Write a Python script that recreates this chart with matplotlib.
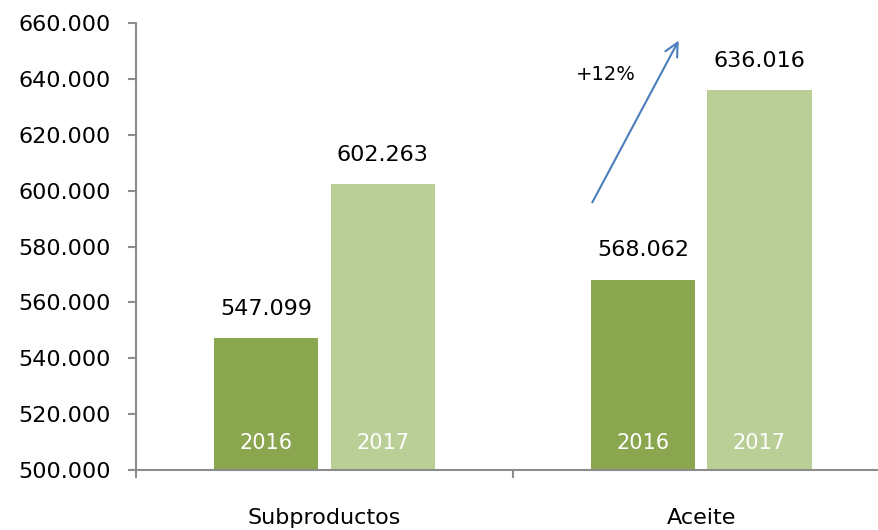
import matplotlib
matplotlib.use("Agg")
import matplotlib.pyplot as plt
import numpy as np

categories = ["Subproductos", "Aceite"]
years = ["2016", "2017"]
values_2016 = [547099, 568062]
values_2017 = [602263, 636016]
colors = ["#8aa64f", "#bacf97"]
growth_label = "+12%"


def fmt(v):
    return f"{v:,.0f}".replace(",", ".")


plt.rcParams["font.family"] = ["DejaVu Sans"]

fig = plt.figure(figsize=(8.79, 5.30), dpi=100)
ax = fig.add_axes([0.1547, 0.1132, 0.8453, 0.8434])

x = np.arange(len(categories))
width = 0.276
offset = 0.154
spine_col = "#8c8c8c"

for i, (vals, col, yr) in enumerate(zip([values_2016, values_2017], colors, years)):
    pos = x + (-offset if i == 0 else offset)
    ax.bar(pos, np.array(vals) - 500000, width=width, bottom=500000, color=col)
    for p, v in zip(pos, vals):
        ax.annotate(fmt(v), (p, v), xytext=(0, 14), textcoords="offset points",
                    ha="center", va="bottom", fontsize=16)
        ax.text(p, 509700, yr, ha="center", va="center", color="white", fontsize=15)

# growth arrow over Aceite
ax.annotate("", xy=(0.943, 654600), xytext=(0.707, 594900),
            arrowprops=dict(arrowstyle="->", color="#4a7ebb", lw=1.5,
                            mutation_scale=24))
ax.text(0.747, 641400, growth_label, ha="center", va="center", fontsize=14)

ax.set_xlim(-0.5, 1.471)
ax.set_ylim(500000, 660000)
ax.set_yticks(np.arange(500000, 660001, 20000))
ax.set_yticklabels([fmt(v) for v in np.arange(500000, 660001, 20000)], fontsize=16)

ax.set_xticks([-0.5, 0.5])
ax.set_xticklabels([])
ax.set_xticks(x, minor=True)
ax.set_xticklabels(categories, minor=True, fontsize=16)
ax.tick_params(axis="x", which="minor", length=0, pad=27)
ax.tick_params(axis="x", which="major", length=6, width=1.5, color=spine_col)
ax.tick_params(axis="y", length=6, width=1.5, color=spine_col, pad=12)

for side in ["top", "right"]:
    ax.spines[side].set_visible(False)
for side in ["left", "bottom"]:
    ax.spines[side].set_color(spine_col)
    ax.spines[side].set_linewidth(1.5)

fig.savefig("out.png", dpi=100)
